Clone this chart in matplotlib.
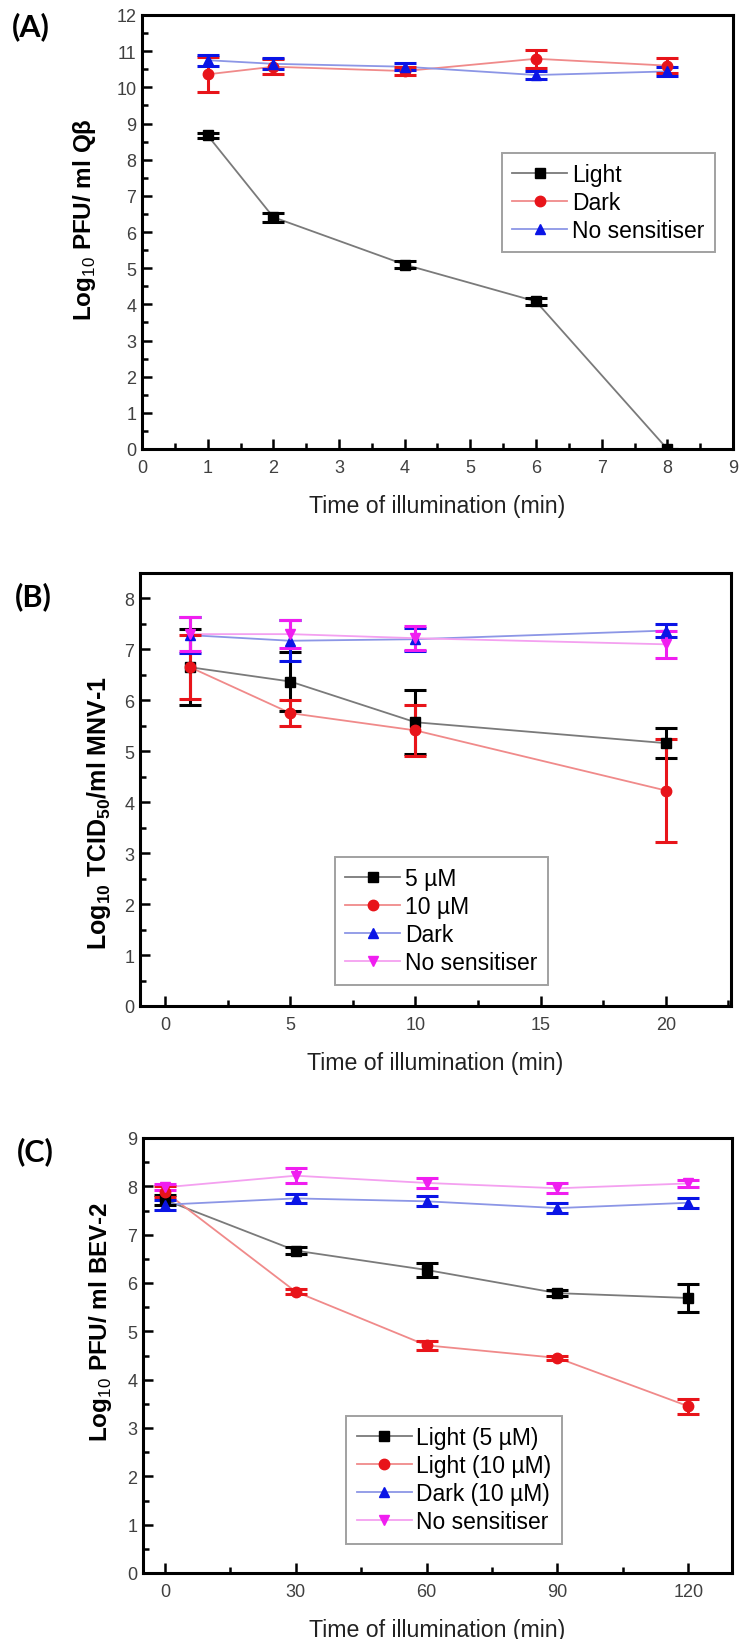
import numpy as np
import matplotlib
matplotlib.use("Agg")
import matplotlib.pyplot as plt
from matplotlib.ticker import MultipleLocator

plt.rcParams['font.family'] = ['Liberation Sans', 'DejaVu Sans']
plt.rcParams['mathtext.fontset'] = 'custom'
plt.rcParams['mathtext.rm'] = 'Liberation Sans'
plt.rcParams['mathtext.bf'] = 'Liberation Sans:bold'

# (A) Q-beta, PFU/ml
a_time = [1, 2, 4, 6, 8]
a_light = [8.67, 6.41, 5.10, 4.08, 0.0]
a_light_err = [0.06, 0.12, 0.10, 0.10, 0.0]
a_dark = [10.36, 10.57, 10.45, 10.79, 10.60]
a_dark_err = [0.48, 0.20, 0.10, 0.25, 0.20]
a_nosens = [10.75, 10.65, 10.57, 10.34, 10.44]
a_nosens_err = [0.15, 0.15, 0.10, 0.12, 0.12]

# (B) MNV-1, TCID50/ml
b_time = [1, 5, 10, 20]
b_5um = [6.65, 6.37, 5.57, 5.16]
b_5um_err = [0.75, 0.57, 0.63, 0.29]
b_10um = [6.65, 5.75, 5.41, 4.23]
b_10um_err = [0.63, 0.25, 0.50, 1.02]
b_dark = [7.28, 7.17, 7.20, 7.37]
b_dark_err = [0.35, 0.40, 0.23, 0.12]
b_nosens = [7.30, 7.30, 7.22, 7.10]
b_nosens_err = [0.33, 0.27, 0.24, 0.27]

# (C) BEV-2, PFU/ml
c_time = [0, 30, 60, 90, 120]
c_light5 = [7.72, 6.67, 6.27, 5.79, 5.69]
c_light5_err = [0.10, 0.08, 0.14, 0.06, 0.28]
c_light10 = [7.89, 5.82, 4.71, 4.45, 3.45]
c_light10_err = [0.12, 0.05, 0.10, 0.05, 0.15]
c_dark10 = [7.62, 7.75, 7.69, 7.55, 7.66]
c_dark10_err = [0.10, 0.10, 0.10, 0.10, 0.10]
c_nosens = [7.98, 8.22, 8.07, 7.96, 8.06]
c_nosens_err = [0.06, 0.15, 0.10, 0.10, 0.08]

# marker, marker colour, line colour
styles = {
    'black': ('s', '#000000', '#7a7a7a'),
    'red': ('o', '#e8141a', '#f08a8a'),
    'blue': ('^', '#0a14e6', '#8c96e6'),
    'magenta': ('v', '#f01ef0', '#f4a0f0'),
}

W, H = 741, 1640
fig = plt.figure(figsize=(W / 100, H / 100), dpi=100)


def box(l, t, r, b):
    return [l / W, 1 - b / H, (r - l) / W, (b - t) / H]


def series(ax, x, y, err, key, label):
    m, mc, lc = styles[key]
    ax.plot(x, y, '-', color=lc, lw=1.3, zorder=2)
    ax.errorbar(x, y, yerr=err, fmt='none', ecolor=mc, elinewidth=2.2,
                capsize=8, capthick=2.2, zorder=3)
    ax.plot(x, y, m, color=mc, ms=7.5, zorder=4)
    ax.plot([], [], '-', color=lc, lw=1.3, marker=m, mfc=mc, mec=mc, ms=7.5,
            label=label)


def style(ax, xlim, ylim, xmaj, xmin, ylabel, ysize, ylab_xy, leg_anchor):
    ax.set_xlim(*xlim)
    ax.set_ylim(*ylim)
    ax.xaxis.set_major_locator(MultipleLocator(xmaj))
    ax.xaxis.set_minor_locator(MultipleLocator(xmin))
    ax.yaxis.set_major_locator(MultipleLocator(1))
    ax.yaxis.set_minor_locator(MultipleLocator(0.5))
    ax.tick_params(which='both', direction='in', top=False, right=False,
                   labelsize=13, width=1.8, colors='black', labelcolor='#404040')
    ax.tick_params(which='major', length=7)
    ax.tick_params(which='minor', length=4)
    ax.tick_params(axis='x', which='major', pad=7)
    ax.tick_params(axis='y', which='major', pad=4)
    for s in ax.spines.values():
        s.set_linewidth(2.2)
    ax.set_xlabel('Time of illumination (min)', fontsize=16.7, color='#222222',
                  labelpad=13)
    ax.set_ylabel(ylabel, fontsize=ysize, fontweight='bold')
    ax.yaxis.set_label_coords(*ylab_xy)
    leg = ax.legend(loc='upper left', bbox_to_anchor=leg_anchor,
                    borderaxespad=0, fontsize=16.5, frameon=True, fancybox=False,
                    edgecolor='#8a8a8a', handlelength=2.4, handletextpad=0.2,
                    labelspacing=0.22, borderpad=0.45)
    leg.get_frame().set_linewidth(1.4)


# Panel A
axA = fig.add_axes(box(142, 16, 733, 450))
series(axA, a_time, a_light, a_light_err, 'black', 'Light')
series(axA, a_time, a_dark, a_dark_err, 'red', 'Dark')
series(axA, a_time, a_nosens, a_nosens_err, 'blue', 'No sensitiser')
style(axA, (0, 9), (0, 12), 1, 0.5, 'Log$_{10}$ PFU/ ml Qβ', 17.5,
      (-0.075, 0.53), (0.609, 0.683))

# Panel B
axB = fig.add_axes(box(140, 574, 731, 1007))
series(axB, b_time, b_5um, b_5um_err, 'black', '5 µM')
series(axB, b_time, b_10um, b_10um_err, 'red', '10 µM')
series(axB, b_time, b_dark, b_dark_err, 'blue', 'Dark')
series(axB, b_time, b_nosens, b_nosens_err, 'magenta', 'No sensitiser')
style(axB, (-1, 22.6), (0, 8.5), 5, 2.5,
      'Log$_{\\mathbf{10}}$ TCID$_{\\mathbf{50}}$/ml MNV-1', 18,
      (-0.045, 0.448), (0.33, 0.344))

# Panel C
axC = fig.add_axes(box(143, 1139, 732, 1574))
series(axC, c_time, c_light5, c_light5_err, 'black', 'Light (5 µM)')
series(axC, c_time, c_light10, c_light10_err, 'red', 'Light (10 µM)')
series(axC, c_time, c_dark10, c_dark10_err, 'blue', 'Dark (10 µM)')
series(axC, c_time, c_nosens, c_nosens_err, 'magenta', 'No sensitiser')
style(axC, (-5, 130), (0, 9), 30, 15, 'Log$_{10}$ PFU/ ml BEV-2', 17.5,
      (-0.05, 0.579), (0.345, 0.361))

for lab, (px, py) in [('(A)', (31, 27)), ('(B)', (33, 597)), ('(C)', (35, 1152))]:
    fig.text(px / W, 1 - py / H, lab, ha='center', va='center', fontsize=22,
             fontweight='bold', family=['Lato', 'DejaVu Sans'])

fig.savefig('out.png', dpi=100)
